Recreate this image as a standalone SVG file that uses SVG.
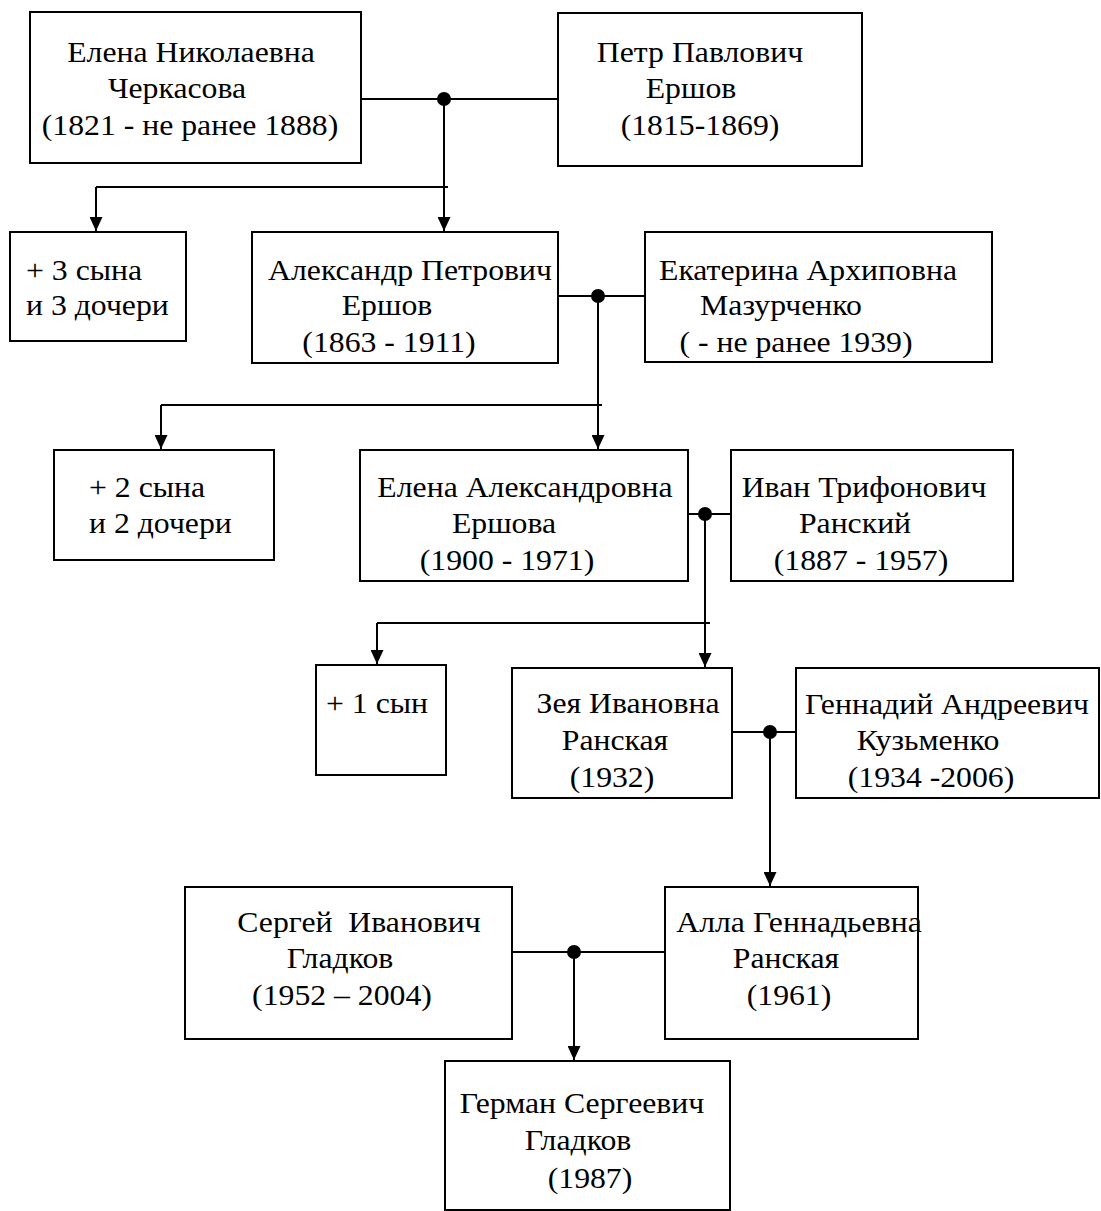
<svg xmlns="http://www.w3.org/2000/svg" width="1101" height="1211" viewBox="0 0 1101 1211">
<defs>
<marker id="arr" viewBox="0 0 14 13" refX="14" refY="6.5" markerWidth="14" markerHeight="13" markerUnits="userSpaceOnUse" orient="auto">
<path d="M0,0 L14,6.5 L0,13 z" fill="#000"/>
</marker>
<style>
.box{fill:#fff;stroke:#000;stroke-width:2}
.t{font-family:"Liberation Serif","Times New Roman",serif;font-size:29px;fill:#000;text-anchor:middle}
.l{text-anchor:start}
.c{fill:none;stroke:#000;stroke-width:2}
.dot{fill:#000}
</style>
</defs>
<rect width="1101" height="1211" fill="#fff"/>
<g id="connectors">
<path class="c" d="M361,99 H558"/>
<circle class="dot" cx="444" cy="99" r="7"/>
<path class="c" d="M444,99 V231" marker-end="url(#arr)"/>
<path class="c" d="M96,187 H448"/>
<path class="c" d="M96,187 V231" marker-end="url(#arr)"/>

<path class="c" d="M558,296 H645"/>
<circle class="dot" cx="598" cy="296" r="7"/>
<path class="c" d="M598,296 V449" marker-end="url(#arr)"/>
<path class="c" d="M161,405 H602"/>
<path class="c" d="M161,405 V449" marker-end="url(#arr)"/>

<path class="c" d="M688,514 H731"/>
<circle class="dot" cx="705" cy="514" r="7"/>
<path class="c" d="M705,514 V667" marker-end="url(#arr)"/>
<path class="c" d="M377,623 H710"/>
<path class="c" d="M377,623 V664" marker-end="url(#arr)"/>

<path class="c" d="M732,732 H796"/>
<circle class="dot" cx="770" cy="732" r="7"/>
<path class="c" d="M770,732 V886" marker-end="url(#arr)"/>

<path class="c" d="M512,952 H665"/>
<circle class="dot" cx="574" cy="952" r="7"/>
<path class="c" d="M574,952 V1060" marker-end="url(#arr)"/>
</g>

<g id="n1">
<rect class="box" x="30" y="12" width="331" height="151"/>
<text class="t" transform="translate(191 62) scale(1.095 1)">Елена Николаевна</text>
<text class="t" transform="translate(177 98) scale(1.095 1)">Черкасова</text>
<text class="t" transform="translate(190 135) scale(1.095 1)">(1821 - не ранее 1888)</text>
</g>
<g id="n2">
<rect class="box" x="558" y="13" width="304" height="153"/>
<text class="t" transform="translate(700 62) scale(1.095 1)">Петр Павлович</text>
<text class="t" transform="translate(691 98) scale(1.095 1)">Ершов</text>
<text class="t" transform="translate(700 135) scale(1.095 1)">(1815-1869)</text>
</g>
<g id="n3">
<rect class="box" x="10" y="232" width="176" height="109"/>
<text class="t l" transform="translate(26 280) scale(1.095 1)">+ 3 сына</text>
<text class="t l" transform="translate(26 315) scale(1.095 1)">и 3 дочери</text>
</g>
<g id="n4">
<rect class="box" x="252" y="232" width="306" height="131"/>
<text class="t" transform="translate(410 280) scale(1.095 1)">Александр Петрович</text>
<text class="t" transform="translate(387 315) scale(1.095 1)">Ершов</text>
<text class="t" transform="translate(389 352) scale(1.095 1)">(1863 - 1911)</text>
</g>
<g id="n5">
<rect class="box" x="645" y="232" width="347" height="130"/>
<text class="t" transform="translate(808 280) scale(1.095 1)">Екатерина Архиповна</text>
<text class="t" transform="translate(781 315) scale(1.095 1)">Мазурченко</text>
<text class="t" transform="translate(796 352) scale(1.095 1)">( - не ранее 1939)</text>
</g>
<g id="n6">
<rect class="box" x="54" y="450" width="220" height="110"/>
<text class="t l" transform="translate(89 497) scale(1.095 1)">+ 2 сына</text>
<text class="t l" transform="translate(89 533) scale(1.095 1)">и 2 дочери</text>
</g>
<g id="n7">
<rect class="box" x="360" y="450" width="328" height="131"/>
<text class="t" transform="translate(525 497) scale(1.095 1)">Елена Александровна</text>
<text class="t" transform="translate(504 533) scale(1.095 1)">Ершова</text>
<text class="t" transform="translate(507 570) scale(1.095 1)">(1900 - 1971)</text>
</g>
<g id="n8">
<rect class="box" x="731" y="450" width="282" height="131"/>
<text class="t" transform="translate(864 497) scale(1.095 1)">Иван Трифонович</text>
<text class="t" transform="translate(855 533) scale(1.095 1)">Ранский</text>
<text class="t" transform="translate(861 570) scale(1.095 1)">(1887 - 1957)</text>
</g>
<g id="n9">
<rect class="box" x="316" y="665" width="130" height="110"/>
<text class="t l" transform="translate(326 713) scale(1.095 1)">+ 1 сын</text>
</g>
<g id="n10">
<rect class="box" x="512" y="668" width="220" height="130"/>
<text class="t" transform="translate(628 713) scale(1.095 1)">Зея Ивановна</text>
<text class="t" transform="translate(615 750) scale(1.095 1)">Ранская</text>
<text class="t" transform="translate(612 787) scale(1.095 1)">(1932)</text>
</g>
<g id="n11">
<rect class="box" x="796" y="668" width="303" height="130"/>
<text class="t" transform="translate(947 714) scale(1.095 1)">Геннадий Андреевич</text>
<text class="t" transform="translate(928 750) scale(1.095 1)">Кузьменко</text>
<text class="t" transform="translate(931 787) scale(1.095 1)">(1934 -2006)</text>
</g>
<g id="n12">
<rect class="box" x="185" y="887" width="327" height="152"/>
<text class="t" transform="translate(359 932) scale(1.095 1)" xml:space="preserve">Сергей  Иванович</text>
<text class="t" transform="translate(340 968) scale(1.095 1)">Гладков</text>
<text class="t" transform="translate(342 1005) scale(1.095 1)">(1952 – 2004)</text>
</g>
<g id="n13">
<rect class="box" x="665" y="887" width="253" height="152"/>
<text class="t" transform="translate(799 932) scale(1.095 1)">Алла Геннадьевна</text>
<text class="t" transform="translate(786 968) scale(1.095 1)">Ранская</text>
<text class="t" transform="translate(789 1005) scale(1.095 1)">(1961)</text>
</g>
<g id="n14">
<rect class="box" x="445" y="1061" width="285" height="149"/>
<text class="t" transform="translate(582 1113) scale(1.095 1)">Герман Сергеевич</text>
<text class="t" transform="translate(578 1150) scale(1.095 1)">Гладков</text>
<text class="t" transform="translate(590 1188) scale(1.095 1)">(1987)</text>
</g>
</svg>
